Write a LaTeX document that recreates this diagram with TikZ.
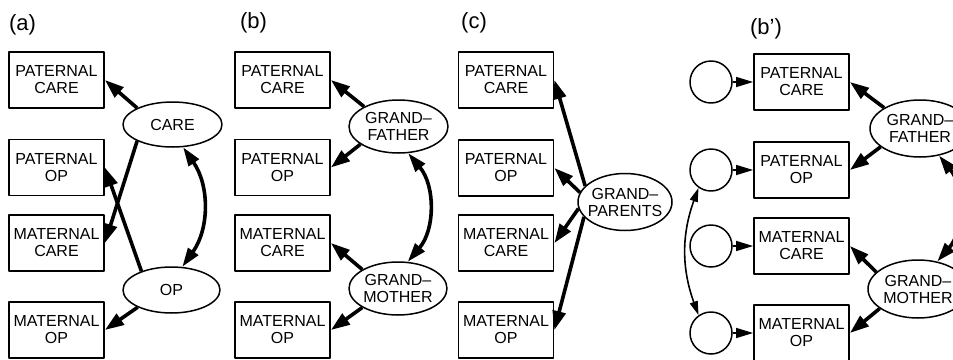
\documentclass[tikz,border=0pt]{standalone}
\usepackage{fontspec}
\setmainfont{Liberation Sans}
\usetikzlibrary{shapes.geometric,arrows.meta}
\begin{document}
\begin{tikzpicture}[x=1pt, y=-1pt, line join=round,
	box/.style={draw, line width=1.8pt, minimum width=95pt, minimum height=56pt, inner sep=0pt, align=center, font=\fontsize{16}{17}\selectfont},
	lat/.style={draw, ellipse, line width=1.5pt, inner sep=-8pt, align=center, font=\fontsize{16}{17}\selectfont},
	err/.style={draw, circle, line width=1.5pt, minimum size=42pt, inner sep=0pt},
	lbl/.style={inner sep=0pt, font=\fontsize{22}{24}\selectfont},
	arr/.style={line width=3.6pt, -{Triangle[length=19pt,width=13pt]}},
	arrboth/.style={line width=3.6pt, {Triangle[length=19pt,width=12pt]}-{Triangle[length=19pt,width=12pt]}},
	earr/.style={line width=1.6pt, -{Triangle[length=17pt,width=10pt]}},
	earrboth/.style={line width=1.6pt, {Triangle[length=14pt,width=8pt]}-{Triangle[length=14pt,width=8pt]}}]
	\useasboundingbox (0,0) rectangle (953,359);
	% (a)
	\node[lbl] (la) at (22.5,25) {(a)};
	\node[box] (apc) at (56.5,80) {PATERNAL\\CARE};
	\node[box] (apo) at (56.5,167.5) {PATERNAL\\OP};
	\node[box] (amc) at (56.5,243) {MATERNAL\\CARE};
	\node[box] (amo) at (56.5,330) {MATERNAL\\OP};
	\node[lat, minimum width=99pt, minimum height=45pt] (acare) at (172.5,124.5) {CARE};
	\node[lat, minimum width=97pt, minimum height=46pt] (aop) at (171.5,290) {OP};
	\draw[arr] (acare.155) -- (apc.east);
	\draw[arr] (acare.205) -- (amc.east);
	\draw[arr] (aop.148) -- (apo.east);
	\draw[arr] (aop.207) -- (amo.east);
	\draw[arrboth] (acare.-65) to[bend left=35] (aop.65);
	% (b)
	\node[lbl] (lb) at (253.5,23) {(b)};
	\node[box] (bpc) at (282.5,80) {PATERNAL\\CARE};
	\node[box] (bpo) at (282.5,167.5) {PATERNAL\\OP};
	\node[box] (bmc) at (282.5,243) {MATERNAL\\CARE};
	\node[box] (bmo) at (282.5,330) {MATERNAL\\OP};
	\node[lat, minimum width=99pt, minimum height=53pt] (bgf) at (398.5,126.5) {GRAND–\\FATHER};
	\node[lat, minimum width=98pt, minimum height=53pt] (bgm) at (398,288.5) {GRAND–\\MOTHER};
	\draw[arr] (bgf.150) -- (bpc.east);
	\draw[arr] (bgf.205) -- (bpo.east);
	\draw[arr] (bgm.152) -- (bmc.east);
	\draw[arr] (bgm.208) -- (bmo.east);
	\draw[arrboth] (bgf.-70) to[bend left=40] (bgm.70);
	% (c)
	\node[lbl] (lc) at (474,23) {(c)};
	\node[box] (cpc) at (506,80) {PATERNAL\\CARE};
	\node[box] (cpo) at (506,168) {PATERNAL\\OP};
	\node[box] (cmc) at (506,243) {MATERNAL\\CARE};
	\node[box] (cmo) at (506,330) {MATERNAL\\OP};
	\node[lat, minimum width=94pt, minimum height=57pt] (cgp) at (625,202) {GRAND–\\PARENTS};
	\draw[arr] (cgp.158) -- (cpc.east);
	\draw[arr] (cgp.168) -- (cpo.east);
	\draw[arr] (cgp.188) -- (cmc.east);
	\draw[arr] (cgp.200) -- (cmo.east);
	% (b')
	\node[lbl] (ld) at (766,29) {(b’)};
	\node[box] (dpc) at (801.5,82) {PATERNAL\\CARE};
	\node[box] (dpo) at (801.5,170) {PATERNAL\\OP};
	\node[box] (dmc) at (801.5,246) {MATERNAL\\CARE};
	\node[box] (dmo) at (801.5,333) {MATERNAL\\OP};
	\node[err] (e1) at (711,82) {};
	\node[err] (e2) at (711,170) {};
	\node[err] (e3) at (711,246) {};
	\node[err] (e4) at (711,333) {};
	\node[lat, minimum width=100pt, minimum height=57pt] (dgf) at (920,128.5) {GRAND–\\FATHER};
	\node[lat, minimum width=100pt, minimum height=58pt] (dgm) at (918,289) {GRAND–\\MOTHER};
	\draw[earr] (e1) -- (dpc);
	\draw[earr] (e2) -- (dpo);
	\draw[earr] (e3) -- (dmc);
	\draw[earr] (e4) -- (dmo);
	\draw[earrboth] (e2.235) to[bend right=20] (e4.125);
	\draw[arr] (dgf.150) -- (dpc.east);
	\draw[arr] (dgf.205) -- (dpo.east);
	\draw[arr] (dgm.158) -- (dmc.east);
	\draw[arr] (dgm.207) -- (dmo.east);
	\draw[arrboth] (dgf.-55) to[bend left=40] (dgm.55);
\end{tikzpicture}
\end{document}
